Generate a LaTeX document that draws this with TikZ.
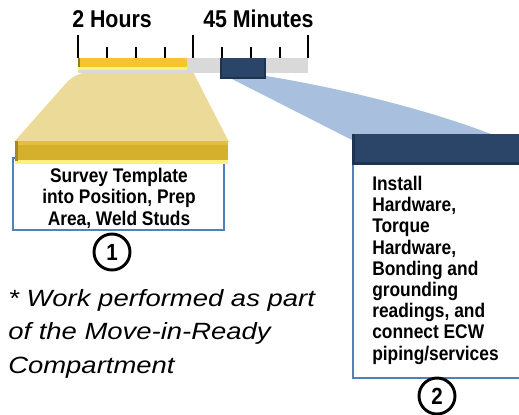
\documentclass[tikz,border=0pt]{standalone}
\usepackage{fontspec}
\setmainfont{Liberation Sans}
\newfontfamily\narrowfont[FakeStretch=0.88]{Liberation Sans}
\newfontfamily\widefont[FakeStretch=1.17]{Liberation Sans}
\definecolor{barGray}{HTML}{D9D9D9}
\definecolor{khaki}{HTML}{ECDA98}
\definecolor{gold}{HTML}{F3C52F}
\definecolor{paleYellow}{HTML}{FCF17E}
\definecolor{goldDark}{HTML}{9B7C10}
\definecolor{band}{HTML}{D5B02C}
\definecolor{bandTop}{HTML}{E3C03C}
\definecolor{bandEdge}{HTML}{A88A1C}
\definecolor{navy}{HTML}{2B4569}
\definecolor{navyDark}{HTML}{1E3350}
\definecolor{lightBlue}{HTML}{A8C0DE}
\definecolor{boxBlue}{HTML}{4F81BD}
\begin{document}
\begin{tikzpicture}[x=0.75pt,y=-0.75pt,
  headtxt/.style={font=\narrowfont\bfseries\fontsize{18.2pt}{20pt}\selectfont, anchor=base west, inner sep=0pt},
  boxtxt/.style={font=\narrowfont\bfseries\fontsize{14.8pt}{15.9pt}\selectfont, inner sep=0pt},
  numcircle/.style={circle, draw=black, line width=2.2pt, fill=white, minimum size=27pt, inner sep=0pt,
    font=\narrowfont\bfseries\fontsize{17.5pt}{18pt}\selectfont},
  bigtick/.style={line width=1.6pt},
  smalltick/.style={line width=1pt},
  note/.style={font=\widefont\itshape\fontsize{17.6pt}{25pt}\selectfont, align=left, anchor=base west, inner sep=0pt}]
\clip (0,0) rectangle (519,415);
\fill[white] (0,0) rectangle (519,415);

% yellow zoom trapezoid
\fill[khaki] (14,142) [rounded corners=10pt] -- (76,72) [sharp corners] -- (193,72) -- (229,142) -- cycle;

% ticks
\foreach \x in {78,193,308} \draw[bigtick] (\x,35) -- (\x,58);
\foreach \x in {107,136,165,222,251,280} \draw[smalltick] (\x,47) -- (\x,58);

% timeline bar
\fill[barGray] (78,58) rectangle (308,73);
\fill[paleYellow] (78,65) rectangle (187,70);
\fill[gold] (78,58) rectangle (187,66.5);
\fill[goldDark] (78,58) rectangle (80,66.5);

% blue zoom shape
\fill[lightBlue] (230,78) -- (352,140) -- (496,136) .. controls (430,110) and (340,88) .. (266,76) -- cycle;

% navy box on timeline
\fill[navyDark] (220,58) rectangle (266,79);
\fill[navy] (222,58) rectangle (264,76.5);

% box 1
\draw[boxBlue, line width=1.2pt, fill=white] (13,158) rectangle (224,230);
\fill[band] (15,141) rectangle (228,161);
\fill[bandTop] (15,141) rectangle (228,145);
\fill[paleYellow] (15,160) rectangle (228,164);
\fill[bandEdge] (15,141) rectangle (18,161);
\node[boxtxt, align=center, anchor=base] (t1) at (119,225)
  {Survey Template\\into Position, Prep\\Area, Weld Studs};
\node[numcircle] (c1) at (112,252) {1};

% box 2
\draw[boxBlue, line width=1.2pt, fill=white] (353,163) rectangle (530,378);
\fill[navyDark] (352,134) rectangle (530,165);
\fill[navy] (355,134) rectangle (530,162);
\node[boxtxt, align=left, anchor=base west] (t2) at (372,360)
  {Install\\Hardware,\\Torque\\Hardware,\\Bonding and\\grounding\\readings, and\\connect ECW\\piping/services};
\node[numcircle] (c2) at (437,396) {2};

% headings
\node[headtxt] (h1) at (72,27) {2 Hours};
\node[headtxt] (h2) at (203,27) {45 Minutes};

% footnote
\node[note] (fn) at (8,373) {* Work performed as part\\of the Move-in-Ready\\Compartment};
\end{tikzpicture}
\end{document}
